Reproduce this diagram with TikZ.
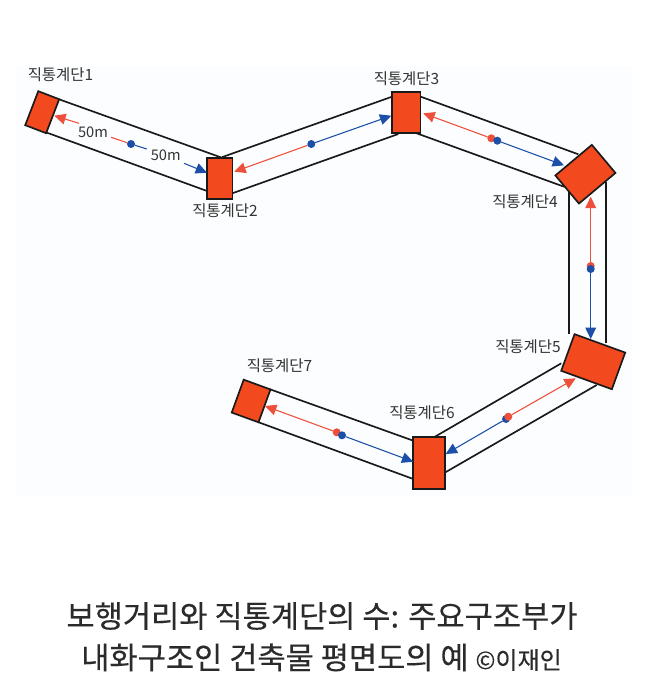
\documentclass[tikz,border=0pt]{standalone}
\usepackage{fontspec}
\setmainfont{Noto Sans CJK KR}
\newfontfamily\titlefont[FakeBold=0.25]{Noto Sans CJK KR}
\usetikzlibrary{arrows.meta}
\definecolor{stairfill}{HTML}{F24A1E}
\definecolor{wallc}{HTML}{1A1A1A}
\definecolor{bluec}{HTML}{1B4FA8}
\definecolor{redc}{HTML}{EE4F3A}
\definecolor{textc}{HTML}{333333}
\definecolor{titlec}{HTML}{2B2B2B}
\definecolor{bgc}{HTML}{FCFDFE}
\tikzset{
  stairbox/.style={draw=wallc,fill=stairfill,line width=1.25pt,inner sep=0pt,outer sep=0pt},
  wall/.style={draw=wallc,line width=1.25pt},
  bluearrow/.style={draw=bluec,line width=0.8pt,-{Triangle[length=8.5pt,width=8pt]}},
  redarrow/.style={draw=redc,line width=0.8pt,-{Triangle[length=8.5pt,width=8pt]}},
  bluedot/.style={circle,fill=bluec,minimum size=6pt,inner sep=0pt,outer sep=0pt},
  reddot/.style={circle,fill=redc,minimum size=6pt,inner sep=0pt,outer sep=0pt},
  lab/.style={font=\fontsize{11.6pt}{13pt}\selectfont,text=textc,inner sep=0pt},
  dist/.style={font=\fontsize{11pt}{13pt}\selectfont,text=textc,inner sep=0pt},
  titleline/.style={font=\titlefont\fontsize{23pt}{27pt}\selectfont,text=titlec,inner sep=0pt},
  stairsize/.style 2 args={minimum width=#1*0.75pt,minimum height=#2*0.75pt}
}
\begin{document}
\begin{tikzpicture}[x=0.75pt,y=-0.75pt]
\useasboundingbox (0,0) rectangle (669,691);
\fill[white] (0,0) rectangle (669,691);
\fill[bgc] (16,66) rectangle (632,496);
% wall ends
\coordinate (w12a) at (220.7,157.3);
\coordinate (w12b) at (207,191);
\coordinate (w23a) at (221.7,157.3);
\coordinate (w23b) at (232.3,193.3);
\coordinate (w23c) at (392,96.7);
\coordinate (w23d) at (398.3,134);
\coordinate (w34a) at (420.7,96.7);
\coordinate (w34b) at (415,132.7);
\coordinate (w34c) at (578.3,154.3);
\coordinate (w34d) at (564,186.7);
\coordinate (w45a) at (569.3,192);
\coordinate (w45b) at (605.7,182);
\coordinate (w45c) at (569.3,334);
\coordinate (w45d) at (605.7,343.3);
\coordinate (w56a) at (561.3,363.3);
\coordinate (w56b) at (596.7,385);
\coordinate (w56c) at (435,436.7);
\coordinate (w56d) at (444.7,472.7);
\coordinate (w67a) at (413.3,440.7);
\coordinate (w67b) at (413.3,479);
\coordinate (w1a) at (59,99.3);
\coordinate (w1b) at (47,132.7);
\coordinate (w7a) at (270,389.3);
\coordinate (w7b) at (258.7,422.3);
% walls
\draw[wall] (w1a) -- (w12a);
\draw[wall] (w1b) -- (w12b);
\draw[wall] (w23a) -- (w23c);
\draw[wall] (w23b) -- (w23d);
\draw[wall] (w34a) -- (w34c);
\draw[wall] (w34b) -- (w34d);
\draw[wall] (w45a) -- (w45c);
\draw[wall] (w45b) -- (w45d);
\draw[wall] (w56a) -- (w56c);
\draw[wall] (w56b) -- (w56d);
\draw[wall] (w7a) -- (w67a);
\draw[wall] (w7b) -- (w67b);
% stairs
\node[stairbox,stairsize={22.4}{36.4},rotate=-21] (s1) at (42.2,112.2) {};
\node[stairbox,stairsize={25.3}{41}] (s2) at (219.7,178.8) {};
\node[stairbox,stairsize={28.7}{41}] (s3) at (406.3,112.2) {};
\node[stairbox,stairsize={47.6}{36.7},rotate=40] (s4) at (585.4,174.2) {};
\node[stairbox,stairsize={53.9}{39},rotate=-20] (s5) at (593.2,361.7) {};
\node[stairbox,stairsize={31.4}{52}] (s6) at (429,463.3) {};
\node[stairbox,stairsize={28.5}{35},rotate=-20] (s7) at (251.1,401) {};
% arrow tips
\coordinate (t1) at (54.3,115.7);
\coordinate (t2a) at (207,172.7);
\coordinate (t2b) at (234.3,171.7);
\coordinate (t3a) at (391.3,115.7);
\coordinate (t3b) at (423.3,113.3);
\coordinate (t4a) at (564,165.3);
\coordinate (t4b) at (590.7,196.7);
\coordinate (t5a) at (590.7,339);
\coordinate (t5b) at (575.7,378.3);
\coordinate (t6a) at (445.7,454);
\coordinate (t6b) at (413.3,461.7);
\coordinate (t7) at (265,406);
% distance labels
\node[dist] (d1) at (93,132.3) {50m};
\node[dist] (d2) at (165.7,155.7) {50m};
\coordinate (g1) at (79,123.3);
\coordinate (g2) at (111,137.3);
\coordinate (g3) at (146.7,149);
\coordinate (g4) at (184,163.3);
% dots and arrows
\node[bluedot] (m12) at (131,144) {};
\draw[redarrow] (g1) -- (t1);
\draw[redc,line width=0.8pt] (m12) -- (g2);
\draw[bluec,line width=0.8pt] (m12) -- (g3);
\draw[bluearrow] (g4) -- (t2a);

\node[bluedot] (m23) at (311.3,144) {};
\draw[redarrow] (m23) -- (t2b);
\draw[bluearrow] (m23) -- (t3a);

\node[reddot] (m34r) at (491.3,138.3) {};
\node[bluedot] (m34b) at (497.3,140.7) {};
\draw[redarrow] (m34r) -- (t3b);
\draw[bluearrow] (m34b) -- (t4a);

\node[reddot] (m45r) at (590.7,266) {};
\node[bluedot] (m45b) at (590.7,269) {};
\draw[redarrow] (m45r) -- (t4b);
\draw[bluearrow] (m45b) -- (t5a);

\node[bluedot] (m56b) at (506,419) {};
\node[reddot] (m56r) at (508.3,416.7) {};
\draw[redarrow] (m56r) -- (t5b);
\draw[bluearrow] (m56b) -- (t6a);

\node[reddot] (m67r) at (336.7,432.3) {};
\node[bluedot] (m67b) at (342,435.3) {};
\draw[redarrow] (m67r) -- (t7);
\draw[bluearrow] (m67b) -- (t6b);
% labels
\node[lab] (l1) at (60.5,75) {직통계단1};
\node[lab] (l2) at (225,210.5) {직통계단2};
\node[lab] (l3) at (406.5,78.5) {직통계단3};
\node[lab] (l4) at (525,201.5) {직통계단4};
\node[lab] (l5) at (528,346.5) {직통계단5};
\node[lab] (l6) at (422,412.5) {직통계단6};
\node[lab] (l7) at (279.5,366) {직통계단7};
% caption
\node[titleline] (c1) at (322,616) {보행거리와 직통계단의 수: 주요구조부가};
\node[titleline,anchor=base west] (c2) at (81,669) {내화구조인 건축물 평면도의 예 {\fontsize{18pt}{21pt}\selectfont ©이재인}};
\end{tikzpicture}
\end{document}
